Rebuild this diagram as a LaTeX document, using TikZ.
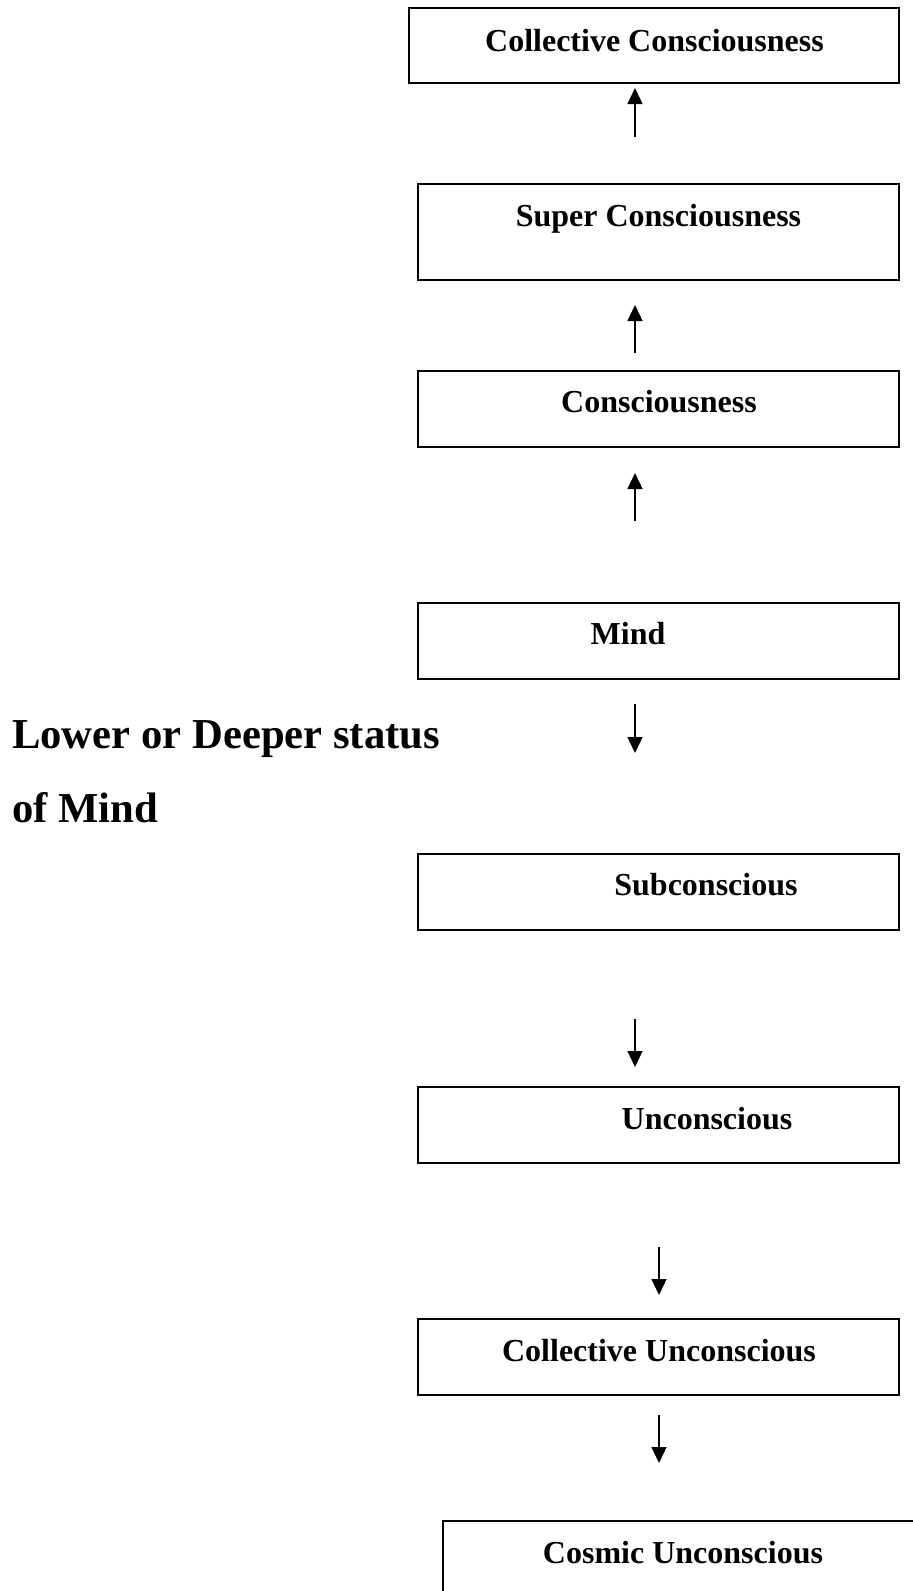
\documentclass[tikz,border=0pt]{standalone}
\usepackage{fontspec}
\setmainfont{Liberation Serif}
\usetikzlibrary{arrows.meta}
\begin{document}
\begin{tikzpicture}[x=1pt,y=-1pt,
  levelbox/.style={draw=black,line width=1.6pt,rectangle,inner sep=0pt,minimum width=481pt,minimum height=76pt},
  boxtext/.style={anchor=base,inner sep=0pt,font=\fontsize{32}{38}\selectfont\bfseries},
  sidetext/.style={anchor=base west,inner sep=0pt,font=\fontsize{42.67}{50}\selectfont\bfseries},
  arr/.style={line width=1.3pt,-{Triangle[width=15pt,length=16pt]}}]
\useasboundingbox (0,0) rectangle (913,1591);
\clip (0,0) rectangle (913,1591);
% boxes
\node[levelbox,minimum width=490pt,minimum height=75pt] (b1) at (654,45.5) {};
\node[levelbox,minimum height=96pt] (b2) at (658.5,232) {};
\node[levelbox] (b3) at (658.5,409) {};
\node[levelbox] (b4) at (658.5,641) {};
\node[levelbox] (b5) at (658.5,892) {};
\node[levelbox] (b6) at (658.5,1125) {};
\node[levelbox] (b7) at (658.5,1357) {};
\node[levelbox] (b8) at (683.5,1559) {};
% texts
\node[boxtext] (t1) at (654.5,51) {Collective Consciousness};
\node[boxtext] (t2) at (658.5,226) {Super Consciousness};
\node[boxtext] (t3) at (659,412) {Consciousness};
\node[boxtext] (t4) at (628,644) {Mind};
\node[boxtext] (t5) at (706,895) {Subconscious};
\node[boxtext] (t6) at (707,1129) {Unconscious};
\node[boxtext] (t7) at (659,1361) {Collective Unconscious};
\node[boxtext] (t8) at (683,1563) {Cosmic Unconscious};
\node[sidetext] (s1) at (12,748) {Lower or Deeper status};
\node[sidetext] (s2) at (12,822) {of Mind};
% arrow end points
\coordinate (a1s) at (635,137); \coordinate (a1e) at (635,88);
\coordinate (a2s) at (635,353); \coordinate (a2e) at (635,305);
\coordinate (a3s) at (635,521); \coordinate (a3e) at (635,473);
\coordinate (a4s) at (635,704); \coordinate (a4e) at (635,753);
\coordinate (a5s) at (635,1019); \coordinate (a5e) at (635,1067);
\coordinate (a6s) at (659,1247); \coordinate (a6e) at (659,1295);
\coordinate (a7s) at (659,1415); \coordinate (a7e) at (659,1463);
\draw[arr] (a1s) -- (a1e);
\draw[arr] (a2s) -- (a2e);
\draw[arr] (a3s) -- (a3e);
\draw[arr] (a4s) -- (a4e);
\draw[arr] (a5s) -- (a5e);
\draw[arr] (a6s) -- (a6e);
\draw[arr] (a7s) -- (a7e);
\end{tikzpicture}
\end{document}
